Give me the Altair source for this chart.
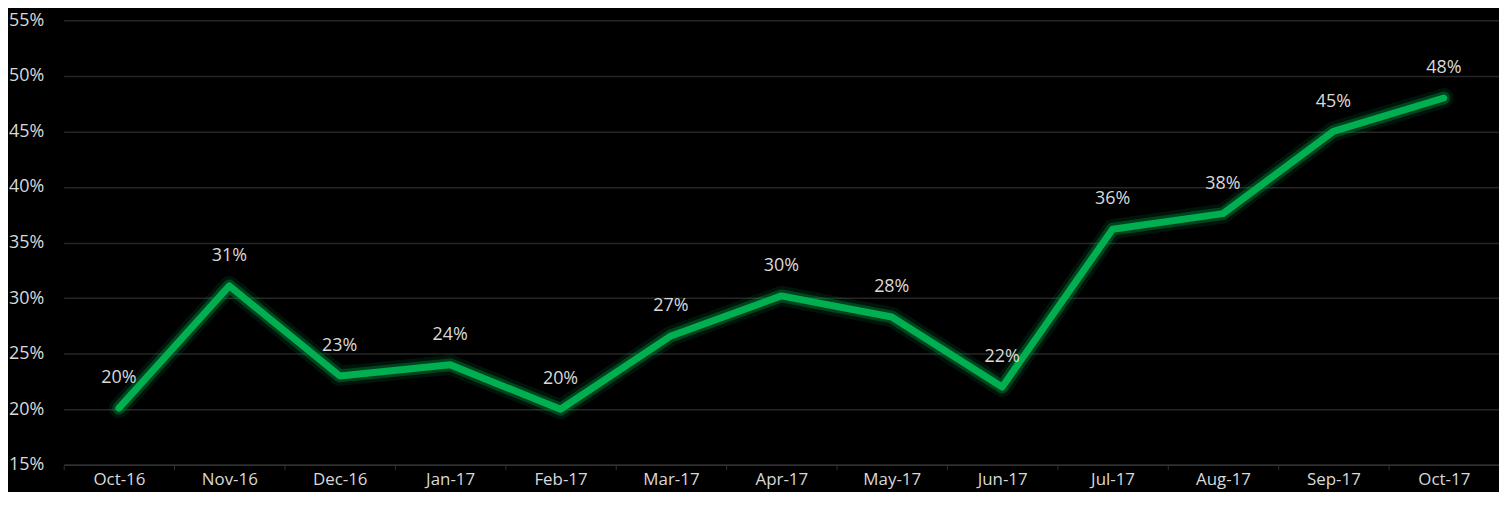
import altair as alt
import pandas as pd

months = ["Oct-16", "Nov-16", "Dec-16", "Jan-17", "Feb-17", "Mar-17", "Apr-17",
          "May-17", "Jun-17", "Jul-17", "Aug-17", "Sep-17", "Oct-17"]
values = [20.1, 31.1, 23.0, 24.0, 20.0, 26.6, 30.2, 28.3, 22.0, 36.2, 37.6, 45.0, 48.0]
y_ticks = [15, 20, 25, 30, 35, 40, 45, 50, 55]

df = pd.DataFrame({"month": months, "value": values})

FONT = "Open Sans"
TXT = "#d9d9d9"
GREEN = "#00b050"

x = alt.X("month:N", sort=months, title=None,
          scale=alt.Scale(paddingInner=0, paddingOuter=0),
          axis=alt.Axis(labelAngle=0, labelFont=FONT, labelFontSize=17, labelColor=TXT,
                        domainColor="#303030", tickColor="#303030", tickSize=5,
                        tickBand="extent", labelPadding=2, grid=False, domainWidth=1.5))
y = alt.Y("value:Q", title=None,
          scale=alt.Scale(domain=[15, 55], nice=False, zero=False),
          axis=alt.Axis(values=y_ticks, labelExpr="datum.value + '%'", labelFont=FONT,
                        labelFontSize=18, labelColor=TXT, ticks=False, domain=False,
                        labelPadding=20, gridColor="#262626", gridWidth=1.5))

base = alt.Chart(df).encode(x=x, y=y)

glow2 = base.mark_line(color=GREEN, strokeWidth=20, opacity=0.12,
                       strokeCap="round", strokeJoin="round")
glow1 = base.mark_line(color=GREEN, strokeWidth=13, opacity=0.30,
                       strokeCap="round", strokeJoin="round")
line = base.mark_line(color=GREEN, strokeWidth=7, strokeCap="round", strokeJoin="round")
labels = base.transform_calculate(
    label="format(datum.value, '.0f') + '%'"
).mark_text(dy=-30, font=FONT, fontSize=18, color=TXT, baseline="middle").encode(
    text="label:N"
)

chart = alt.layer(glow2, glow1, line, labels).properties(
    width=1443, height=447,
    background="#000000",
    padding={"left": 56, "top": 11, "right": 0, "bottom": 26},
    autosize=alt.AutoSizeParams(type="none"),
).configure_view(stroke=None)

chart.save("out.html", embed_options={"renderer": "svg", "actions": False})
